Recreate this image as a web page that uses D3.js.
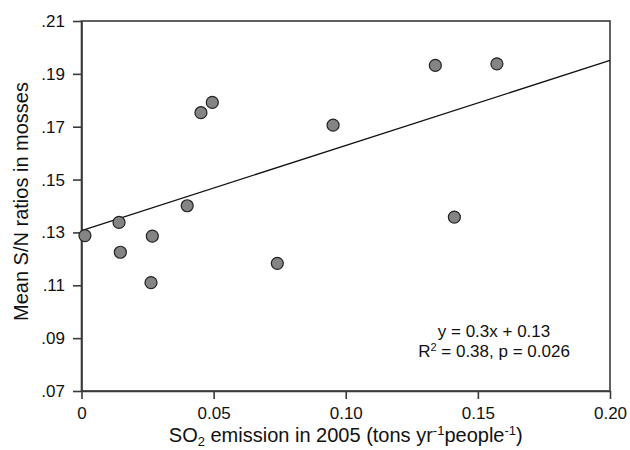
<!DOCTYPE html>
<html>
<head>
<meta charset="utf-8">
<script src="https://cdn.jsdelivr.net/npm/d3@7"></script>
<style>
  html, body { margin: 0; padding: 0; background: #fff; }
  svg { display: block; font-family: "Liberation Sans", Arial, sans-serif; }
</style>
</head>
<body>
<svg id="chart" width="630" height="450"></svg>
<script>
// ---- data ----
const so2 = [0.0013, 0.0142, 0.0147, 0.0268, 0.0263, 0.0400, 0.0452, 0.0495, 0.0741, 0.0952, 0.1339, 0.1411, 0.1572];
const snRatio = [0.1288, 0.1338, 0.1225, 0.1286, 0.1110, 0.1401, 0.1753, 0.1792, 0.1183, 0.1706, 0.1932, 0.1358, 0.1938];
const fitX = [0, 0.20];
const fitY = [0.1307, 0.1951];
const xTicks = [0, 0.05, 0.10, 0.15, 0.20];
const xTickLabels = ["0", "0.05", "0.10", "0.15", "0.20"];
const yTicks = [0.07, 0.09, 0.11, 0.13, 0.15, 0.17, 0.19, 0.21];
const yTickLabels = [".07", ".09", ".11", ".13", ".15", ".17", ".19", ".21"];

const svg = d3.select("#chart");
const m = { left: 81.5, right: 610, top: 21, bottom: 391 };

const x = d3.scaleLinear().domain([0, 0.20]).range([m.left, m.right]);
const y = d3.scaleLinear().domain([0.07, 0.21]).range([m.bottom, m.top]);

const axisColor = "#3a3a3a";

// frame
svg.append("rect")
  .attr("x", m.left).attr("y", m.top)
  .attr("width", m.right - m.left).attr("height", m.bottom - m.top)
  .attr("fill", "none").attr("stroke", axisColor).attr("stroke-width", 1.6);

// x axis
const gx = svg.append("g").attr("transform", `translate(0,${m.bottom})`)
  .call(d3.axisBottom(x).tickValues(xTicks).tickFormat((d, i) => xTickLabels[i]).tickSize(8).tickSizeOuter(0).tickPadding(8));
// y axis
const gy = svg.append("g").attr("transform", `translate(${m.left},0)`)
  .call(d3.axisLeft(y).tickValues(yTicks).tickFormat((d, i) => yTickLabels[i]).tickSize(8.5).tickSizeOuter(0).tickPadding(8));

[gx, gy].forEach(g => {
  g.select(".domain").attr("stroke", axisColor).attr("stroke-width", 1.6);
  g.selectAll(".tick line").attr("stroke", axisColor).attr("stroke-width", 1.6);
  g.selectAll(".tick text").attr("fill", "#111").style("font-size", "17px")
    .style("font-family", "'Liberation Sans', Arial, sans-serif");
});

// regression line
svg.append("line")
  .attr("x1", x(fitX[0])).attr("y1", y(fitY[0]))
  .attr("x2", x(fitX[1])).attr("y2", y(fitY[1]))
  .attr("stroke", "#111").attr("stroke-width", 1.3);

// points
svg.append("g").selectAll("circle")
  .data(so2.map((d, i) => [d, snRatio[i]]))
  .join("circle")
  .attr("cx", d => x(d[0])).attr("cy", d => y(d[1]))
  .attr("r", 6)
  .attr("fill", "#848484").attr("stroke", "#222").attr("stroke-width", 1.2);

// annotation
const ann = svg.append("text").attr("text-anchor", "middle").attr("fill", "#111").style("font-size", "17px");
ann.append("tspan").attr("x", 494).attr("y", 337).text("y = 0.3x + 0.13");
const l2 = svg.append("text").attr("text-anchor", "middle").attr("fill", "#111").style("font-size", "17px")
  .attr("x", 494).attr("y", 357);
l2.append("tspan").text("R");
l2.append("tspan").attr("dy", -6).style("font-size", "11px").text("2");
l2.append("tspan").attr("dy", 6).text(" = 0.38, p = 0.026");

// x axis title
const xt = svg.append("text").attr("text-anchor", "middle").attr("fill", "#111").style("font-size", "20px")
  .attr("x", (m.left + m.right) / 2).attr("y", 442);
xt.append("tspan").text("SO");
xt.append("tspan").attr("dy", 4).style("font-size", "13px").text("2");
xt.append("tspan").attr("dy", -4).text(" emission in 2005 (tons yr");
xt.append("tspan").attr("dy", -7).style("font-size", "13px").text("-1");
xt.append("tspan").attr("dy", 7).text("people");
xt.append("tspan").attr("dy", -7).style("font-size", "13px").text("-1");
xt.append("tspan").attr("dy", 7).text(")");

// y axis title
svg.append("text").attr("text-anchor", "middle").attr("fill", "#111").style("font-size", "20px")
  .attr("transform", `translate(28,${(80 + 323) / 2}) rotate(-90)`)
  .text("Mean S/N ratios in mosses");
</script>
</body>
</html>
